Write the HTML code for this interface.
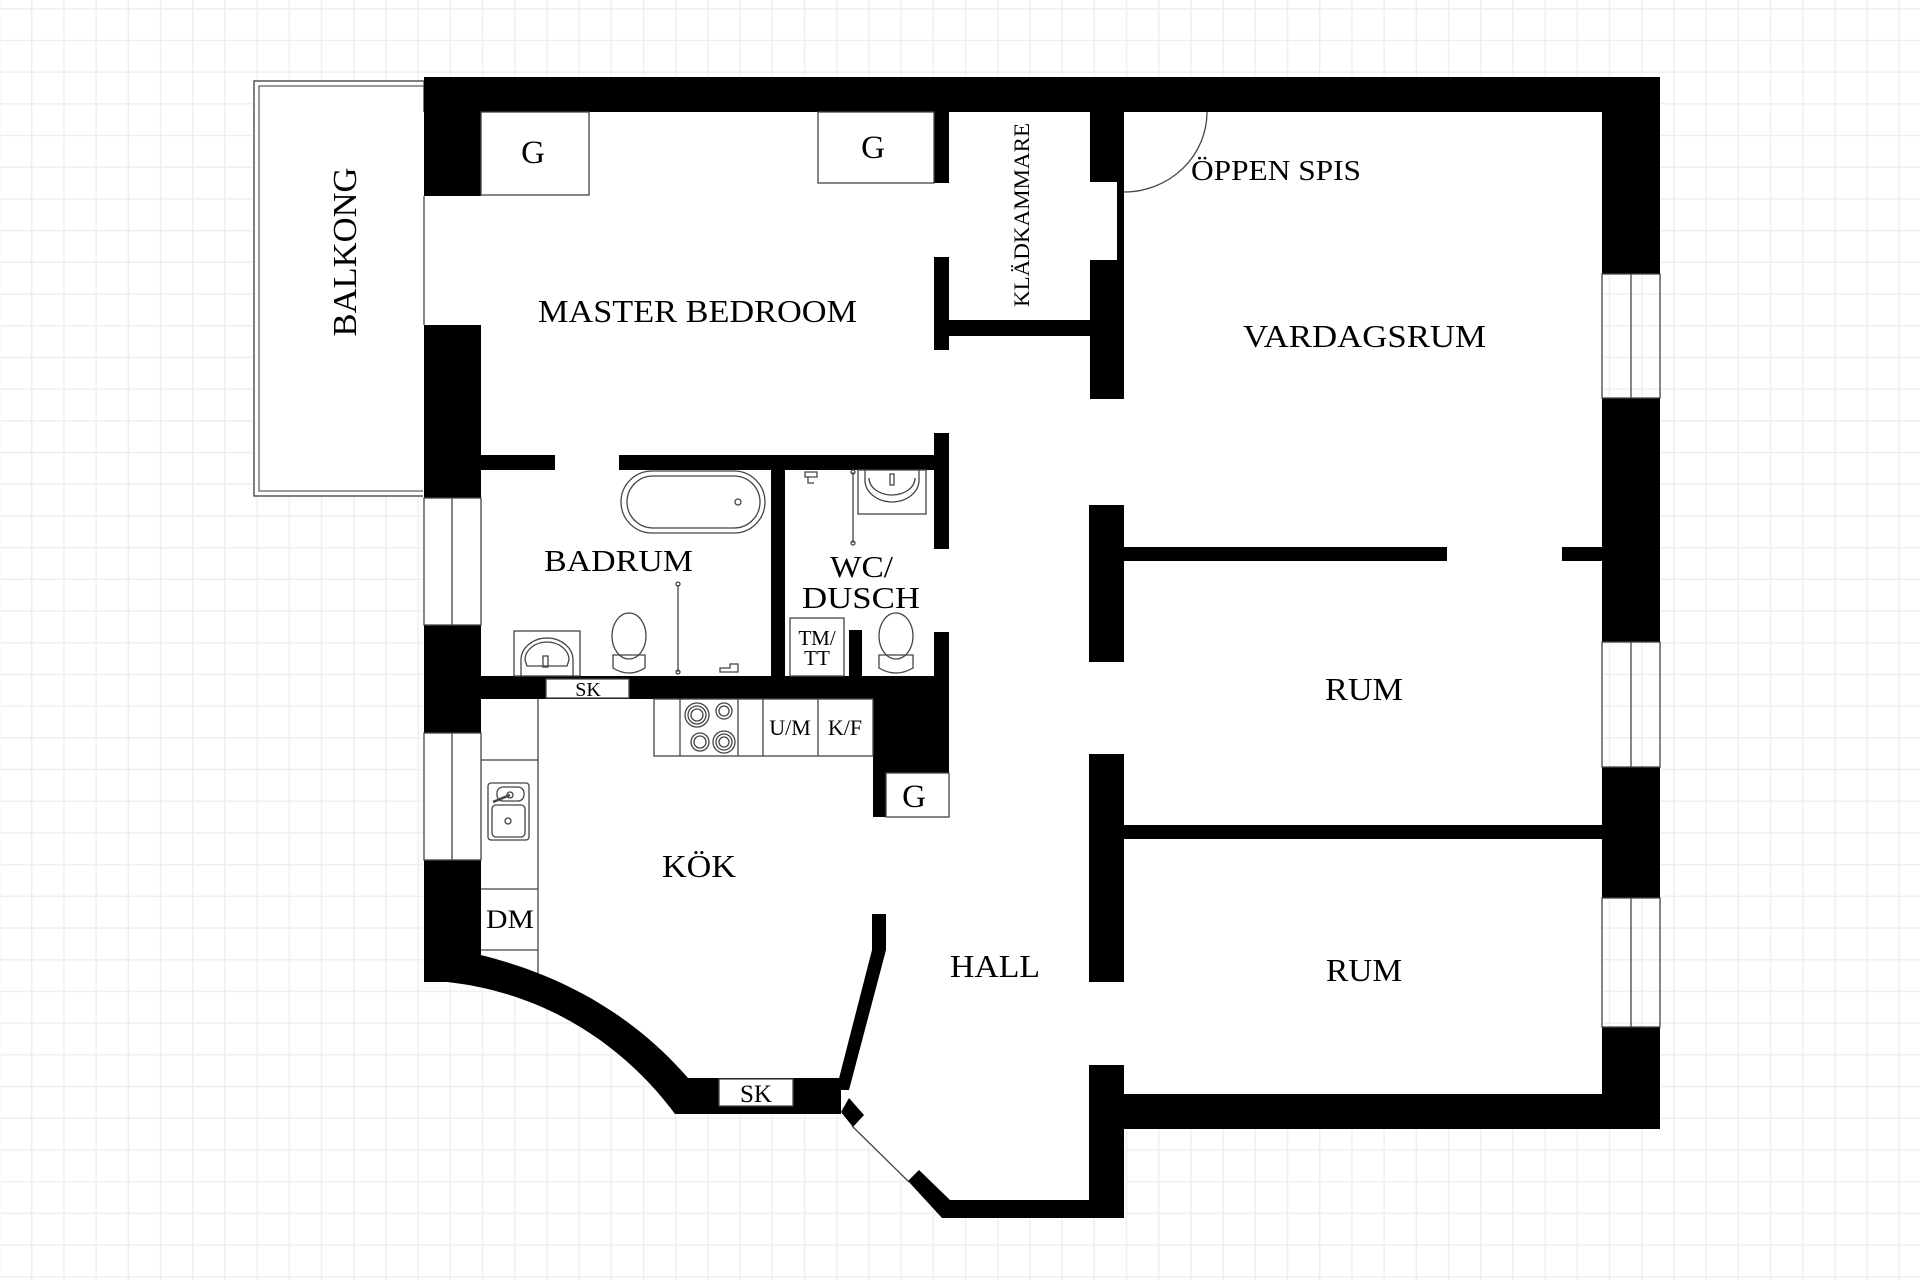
<!DOCTYPE html>
<html><head><meta charset="utf-8"><style>
html,body{margin:0;padding:0;background:#fff;}
svg{display:block;}
text{font-family:"Liberation Serif",serif;fill:#000;}
</style></head><body>
<svg width="1920" height="1280" viewBox="0 0 1920 1280" xmlns="http://www.w3.org/2000/svg">
<defs>
<pattern id="g" x="31" y="8" width="32.2" height="31.7" patternUnits="userSpaceOnUse">
<path d="M0 0H32.2M0 0V31.7" stroke="#efefef" stroke-width="3" fill="none"/>
</pattern>
</defs>
<rect width="1920" height="1280" fill="#fff"/>
<rect width="1920" height="1280" fill="url(#g)"/>

<!-- balcony -->
<rect x="254" y="81" width="170" height="415" fill="#fff" stroke="#555" stroke-width="1.5"/>
<rect x="259" y="86" width="165" height="405" fill="none" stroke="#555" stroke-width="1.2"/>

<!-- room interiors white -->
<path d="M481 112H1602V1094H1124V1218H942L908 1181L852 1126L841 1114H675C620 1040 540 990 447 982H423V112Z" fill="#fff"/>

<g fill="#000">
<!-- top wall -->
<rect x="424" y="77" width="1236" height="35"/>
<!-- left wall blocks -->
<rect x="424" y="77" width="57" height="119"/>
<rect x="424" y="325" width="57" height="173"/>
<rect x="424" y="625" width="57" height="108"/>
<rect x="424" y="860" width="57" height="122"/>
<!-- right wall blocks -->
<rect x="1602" y="77" width="58" height="197"/>
<rect x="1602" y="398" width="58" height="244"/>
<rect x="1602" y="767" width="58" height="131"/>
<rect x="1602" y="1027" width="58" height="102"/>
<!-- bottom right wall -->
<rect x="1124" y="1094" width="536" height="35"/>
<!-- curved kitchen wall -->
<path d="M424 982H447C540 992 620 1040 675 1114H841V1078H688C620 1000 540 970 481 955V940H424Z"/>
<!-- hall diagonal wall -->
<path d="M872 914H886V950L849 1090H836L872 950Z"/>
<path d="M841 1112L849 1098L864 1115L853 1127Z"/>
<!-- entrance -->
<path d="M908 1181L919 1170L950 1200H1089V1065H1124V1218H942Z"/>
<!-- hall partition -->
<rect x="1089" y="505" width="35" height="157"/>
<rect x="1089" y="754" width="35" height="228"/>
<rect x="1124" y="547" width="323" height="14"/>
<rect x="1562" y="547" width="40" height="14"/>
<rect x="1124" y="825" width="478" height="14"/>
<!-- closet -->
<rect x="934" y="112" width="15" height="71"/>
<rect x="934" y="257" width="15" height="93"/>
<rect x="949" y="320" width="141" height="16"/>
<rect x="1090" y="112" width="34" height="70"/>
<rect x="1117" y="182" width="7" height="78"/>
<rect x="1090" y="260" width="34" height="139"/>
<!-- bath top walls -->
<rect x="481" y="455" width="74" height="15"/>
<rect x="619" y="455" width="330" height="15"/>
<rect x="934" y="433" width="15" height="116"/>
<rect x="771" y="470" width="14" height="206"/>
<rect x="849" y="630" width="13" height="46"/>
<rect x="934" y="632" width="15" height="44"/>
<!-- bath/kitchen wall -->
<rect x="481" y="676" width="468" height="23"/>
<rect x="873" y="676" width="76" height="97"/>
<rect x="873" y="773" width="13" height="44"/>
</g>

<!-- window lines -->
<g fill="none" stroke="#444" stroke-width="1.3">
<rect x="424" y="498" width="57" height="127"/><line x1="452" y1="498" x2="452" y2="625"/>
<rect x="424" y="733" width="57" height="127"/><line x1="452" y1="733" x2="452" y2="860"/>
<line x1="424" y1="196" x2="424" y2="325"/>
<rect x="1602" y="274" width="58" height="124"/><line x1="1631" y1="274" x2="1631" y2="398"/>
<rect x="1602" y="642" width="58" height="125"/><line x1="1631" y1="642" x2="1631" y2="767"/>
<rect x="1602" y="898" width="58" height="129"/><line x1="1631" y1="898" x2="1631" y2="1027"/>
<!-- G boxes -->
<rect x="481" y="112" width="108" height="83"/>
<rect x="818" y="112" width="116" height="71"/>
<rect x="886" y="773" width="63" height="44" fill="#fff"/>
<!-- door arc -->
<path d="M1207 112A83 80 0 0 1 1124 192"/>
<line x1="852" y1="1126" x2="909" y2="1182"/>
<!-- kitchen counters -->
<rect x="654" y="699" width="219" height="57"/>
<line x1="680" y1="699" x2="680" y2="756"/>
<line x1="738" y1="699" x2="738" y2="756"/>
<line x1="763" y1="699" x2="763" y2="756"/>
<line x1="818" y1="699" x2="818" y2="756"/>
<line x1="538" y1="699" x2="538" y2="973"/>
<line x1="481" y1="760" x2="538" y2="760"/>
<line x1="481" y1="889" x2="538" y2="889"/>
<line x1="481" y1="950" x2="538" y2="950"/>
<!-- burners -->
<circle cx="697" cy="715" r="12"/><circle cx="697" cy="715" r="9"/><circle cx="697" cy="715" r="6"/>
<circle cx="724" cy="711" r="8"/><circle cx="724" cy="711" r="5"/>
<circle cx="700" cy="742" r="9"/><circle cx="700" cy="742" r="6"/>
<circle cx="724" cy="742" r="11"/><circle cx="724" cy="742" r="8"/><circle cx="724" cy="742" r="5"/>
<!-- kitchen sink -->
<rect x="488" y="783" width="41" height="57" rx="3"/>
<rect x="497" y="787" width="27" height="14" rx="6"/>
<rect x="492" y="805" width="33" height="32" rx="4"/>
<circle cx="508" cy="821" r="3"/><circle cx="510" cy="795" r="3"/>
<line x1="493" y1="802" x2="510" y2="795" stroke-width="2.5"/>
<!-- bathtub -->
<rect x="621" y="471" width="144" height="62" rx="31"/>
<rect x="627" y="476" width="133" height="52" rx="26"/>
<circle cx="738" cy="502" r="3"/>
<!-- bath sink -->
<rect x="514" y="631" width="66" height="45"/>
<path d="M521 676V660A26 22 0 0 1 573 660V676"/>
<path d="M525 660A22 18 0 0 1 569 660L567 666H527Z"/>
<rect x="543" y="656" width="5" height="11"/>
<!-- bath toilet -->
<ellipse cx="629" cy="636" rx="17" ry="23"/>
<path d="M613 655H645V668Q629 678 613 668Z"/>
<!-- shower rods -->
<line x1="678" y1="585" x2="678" y2="672"/><circle cx="678" cy="584" r="2"/><circle cx="678" cy="672" r="2"/>
<line x1="853" y1="472" x2="853" y2="543"/><circle cx="853" cy="472" r="2"/><circle cx="853" cy="543" r="2"/>
<path d="M720 668h10v-4h8v8h-18z"/>
<path d="M805 472h12v5h-12z M808 477v6h6"/>
<!-- WC sink -->
<rect x="858" y="470" width="68" height="44"/>
<path d="M865 470V480A27 22 0 0 0 919 480V470"/>
<path d="M869 478A23 17 0 0 0 915 478"/>
<rect x="890" y="474" width="4" height="11"/>
<!-- TM/TT -->
<rect x="790" y="618" width="54" height="58"/>
<!-- WC toilet -->
<ellipse cx="896" cy="636" rx="17" ry="23"/>
<path d="M879 655H913V668Q896 678 879 668Z"/>
<!-- SK boxes -->
<rect x="546" y="679" width="83" height="19" fill="#fff"/>
<rect x="719" y="1079" width="74" height="27" fill="#fff"/>
</g>

<!-- labels -->
<text x="533" y="163" font-size="33" text-anchor="middle">G</text>
<text x="873" y="158" font-size="33" text-anchor="middle">G</text>
<text x="914" y="807" font-size="33" text-anchor="middle">G</text>
<text x="538" y="322" font-size="32" textLength="319" lengthAdjust="spacingAndGlyphs">MASTER BEDROOM</text>
<text transform="translate(356,252) rotate(-90)" font-size="34" text-anchor="middle" textLength="169" lengthAdjust="spacingAndGlyphs">BALKONG</text>
<text transform="translate(1029,215) rotate(-90)" font-size="22" text-anchor="middle" textLength="184" lengthAdjust="spacingAndGlyphs">KLÄDKAMMARE</text>
<text x="1191" y="180" font-size="29" textLength="170" lengthAdjust="spacingAndGlyphs">ÖPPEN SPIS</text>
<text x="1243" y="347" font-size="32" textLength="243" lengthAdjust="spacingAndGlyphs">VARDAGSRUM</text>
<text x="544" y="571" font-size="31" textLength="149" lengthAdjust="spacingAndGlyphs">BADRUM</text>
<text x="830" y="577" font-size="31" textLength="63" lengthAdjust="spacingAndGlyphs">WC/</text>
<text x="802" y="608" font-size="31" textLength="118" lengthAdjust="spacingAndGlyphs">DUSCH</text>
<text x="817" y="645" font-size="21" text-anchor="middle">TM/</text>
<text x="817" y="665" font-size="21" text-anchor="middle">TT</text>
<text x="588" y="696" font-size="20" text-anchor="middle">SK</text>
<text x="756" y="1102" font-size="25" text-anchor="middle">SK</text>
<text x="790" y="735" font-size="22" text-anchor="middle">U/M</text>
<text x="845" y="735" font-size="22" text-anchor="middle">K/F</text>
<text x="662" y="877" font-size="32" textLength="74" lengthAdjust="spacingAndGlyphs">KÖK</text>
<text x="486" y="928" font-size="26" textLength="48" lengthAdjust="spacingAndGlyphs">DM</text>
<text x="950" y="977" font-size="32" textLength="90" lengthAdjust="spacingAndGlyphs">HALL</text>
<text x="1325" y="700" font-size="32" textLength="78" lengthAdjust="spacingAndGlyphs">RUM</text>
<text x="1326" y="981" font-size="32" textLength="76" lengthAdjust="spacingAndGlyphs">RUM</text>
</svg>
</body></html>
